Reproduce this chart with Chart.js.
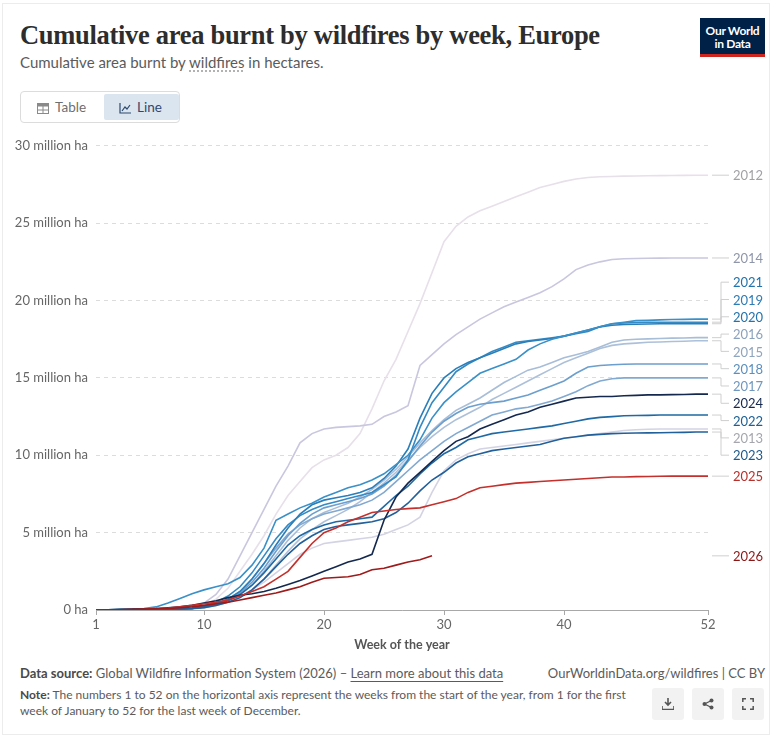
<!DOCTYPE html>
<html>
<head>
<meta charset="utf-8">
<script src="https://cdn.jsdelivr.net/npm/chart.js@4.4.1/dist/chart.umd.min.js"></script>
<style>
  html, body { margin: 0; padding: 0; background: #fff; }
  body { width: 783px; height: 740px; position: relative; overflow: hidden; font-family: Lato, "Noto Sans", sans-serif; }
  .frame { position: absolute; left: 2px; top: 3px; width: 768px; height: 732px; border: 1px solid #ececec; box-sizing: border-box; }
  .title { position: absolute; left: 20px; top: 20px; font-family: "Liberation Serif", "DejaVu Serif", serif; font-weight: bold; font-size: 26.5px; color: #2d2d2d; letter-spacing: -0.3px; white-space: nowrap; }
  .subtitle { position: absolute; left: 20px; top: 53px; font-size: 15px; color: #5b5b5b; white-space: nowrap; }
  .subtitle span { text-decoration: underline dotted #999; text-underline-offset: 3px; }
  .tabs { position: absolute; left: 20px; top: 91px; width: 160px; height: 32px; border: 1px solid #dcdcdc; border-radius: 4px; box-sizing: border-box; }
  .tab { position: absolute; top: 2px; height: 26px; font-size: 13.5px; color: #6e6e6e; line-height: 26px; }
  .tab.on { background: #dbe5f0; color: #2d4a6e; border-radius: 2px; }
  .tab svg { vertical-align: -2px; margin-right: 6px; }
  .logo { position: absolute; left: 700px; top: 18px; width: 65px; height: 39px; background: #002147; color: #fff; font-size: 12px; font-weight: bold; text-align: center; line-height: 13px; box-sizing: border-box; padding-top: 6px; letter-spacing: -0.3px; }
  .logo:after { content: ""; position: absolute; left: 0; right: 0; bottom: 0; height: 3px; background: #ce261e; }
  #wrap { position: absolute; left: 0; top: 130px; width: 783px; height: 530px; }
  .source { position: absolute; left: 20px; top: 665px; font-size: 13px; color: #5b5b5b; white-space: nowrap; }
  .source b, .note b { color: #4a4a4a; }
  .source u { text-underline-offset: 3px; }
  .credit { position: absolute; right: 18px; top: 665px; font-size: 13px; color: #5b5b5b; white-space: nowrap; }
  .note { position: absolute; left: 20px; top: 687px; width: 618px; font-size: 12px; color: #5b5b5b; line-height: 16px; }
  .btn { position: absolute; top: 688px; width: 32px; height: 32px; background: #f2f2f2; border-radius: 3px; }
  .btn svg { position: absolute; left: 10px; top: 10px; }
</style>
</head>
<body>
<div class="frame"></div>
<div class="title">Cumulative area burnt by wildfires by week, Europe</div>
<div class="subtitle">Cumulative area burnt by <span>wildfires</span> in hectares.</div>
<div class="tabs">
  <div class="tab" style="left:16px;width:70px;"><svg width="12" height="11" viewBox="0 0 12 11"><rect x="0.5" y="0.5" width="11" height="10" fill="none" stroke="#8a8a8a"/><rect x="0.5" y="0.5" width="11" height="3" fill="#8a8a8a"/><line x1="6" y1="0" x2="6" y2="11" stroke="#8a8a8a"/><line x1="0" y1="7" x2="12" y2="7" stroke="#8a8a8a"/></svg>Table</div>
  <div class="tab on" style="left:83px;width:75px;"><span style="padding-left:15px"><svg width="12" height="11" viewBox="0 0 12 11"><polyline points="1,0 1,10 12,10" fill="none" stroke="#2d4a6e" stroke-width="1.2"/><polyline points="3,8 6,4 8,6 11,2" fill="none" stroke="#2d4a6e" stroke-width="1.2"/></svg>Line</span></div>
</div>
<div class="logo">Our World<br>in Data</div>
<div id="wrap"><canvas id="chart"></canvas></div>
<div class="source"><b>Data source:</b> Global Wildfire Information System (2026) – <u>Learn more about this data</u></div>
<div class="credit">OurWorldinData.org/wildfires | CC BY</div>
<div class="note"><b>Note:</b> The numbers 1 to 52 on the horizontal axis represent the weeks from the start of the year, from 1 for the first week of January to 52 for the last week of December.</div>
<div class="btn" style="left:652px;"><svg width="12" height="12" viewBox="0 0 12 12"><path d="M6 0v7M3 4l3 3 3-3" fill="none" stroke="#555" stroke-width="1.6"/><path d="M0 8v3.5h12V8" fill="none" stroke="#555" stroke-width="1.6"/></svg></div>
<div class="btn" style="left:692px;"><svg width="12" height="12" viewBox="0 0 12 12"><circle cx="9.5" cy="2.5" r="2" fill="#555"/><circle cx="2.5" cy="6" r="2" fill="#555"/><circle cx="9.5" cy="9.5" r="2" fill="#555"/><path d="M9.5 2.5L2.5 6l7 3.5" fill="none" stroke="#555" stroke-width="1.3"/></svg></div>
<div class="btn" style="left:732px;"><svg width="12" height="12" viewBox="0 0 12 12"><path d="M0.8 4V0.8H4M8 0.8h3.2V4M11.2 8v3.2H8M4 11.2H0.8V8" fill="none" stroke="#555" stroke-width="1.5"/></svg></div>
<script>
// weeks of the year
const weeks = [1, 2, 3, 4, 5, 6, 7, 8, 9, 10, 11, 12, 13, 14, 15, 16, 17, 18, 19, 20,
  21, 22, 23, 24, 25, 26, 27, 28, 29, 30, 31, 32, 33, 34, 35, 36, 37, 38, 39, 40,
  41, 42, 43, 44, 45, 46, 47, 48, 49, 50, 51, 52];
const weekTicks = [1, 10, 20, 30, 40, 52];
const yTicks = [0, 5, 10, 15, 20, 25, 30];

// cumulative area burnt, million hectares
const burnt2012 = [0, 0, 0.01, 0.02, 0.03, 0.05, 0.08, 0.12, 0.2,
  0.3, 0.7, 1.4, 2.5, 3.6, 4.8, 6.2, 7.4, 8.3, 9.2, 9.7,
  10.0, 10.5, 11.4, 13.0, 14.8, 16.2, 18.0, 19.8, 21.8, 23.8,
  24.8, 25.4, 25.8, 26.1, 26.4, 26.7, 27.0, 27.3, 27.5, 27.7,
  27.85, 27.95, 28.0, 28.02, 28.04, 28.05, 28.06, 28.07, 28.08, 28.09, 28.1, 28.1];
const burnt2013 = [0, 0, 0.01, 0.02, 0.03, 0.05, 0.08, 0.1, 0.15,
  0.25, 0.4, 0.6, 0.9, 1.3, 1.8, 2.4, 3.0, 3.6, 4.0, 4.3,
  4.4, 4.5, 4.6, 4.7, 4.9, 5.2, 5.5, 6.0, 7.6, 9.0,
  9.7, 10.1, 10.4, 10.5, 10.6, 10.7, 10.8, 10.9, 11.0, 11.1,
  11.2, 11.3, 11.4, 11.5, 11.6, 11.65, 11.68, 11.7, 11.7, 11.7, 11.7, 11.7];
const burnt2014 = [0, 0, 0.01, 0.02, 0.03, 0.05, 0.08, 0.12, 0.2,
  0.45, 1.0, 2.0, 3.5, 5.0, 6.5, 8.0, 9.3, 10.8, 11.4, 11.7,
  11.8, 11.85, 11.9, 12.0, 12.5, 12.8, 13.2, 15.8, 16.5, 17.2,
  17.8, 18.3, 18.8, 19.2, 19.6, 19.9, 20.2, 20.5, 20.9, 21.4,
  22.0, 22.3, 22.5, 22.65, 22.7, 22.72, 22.73, 22.74, 22.75, 22.75, 22.75, 22.75];
const burnt2015 = [0, 0, 0.01, 0.01, 0.02, 0.03, 0.04, 0.05, 0.06,
  0.15, 0.3, 0.5, 0.8, 1.3, 2.0, 2.9, 3.8, 4.6, 5.2, 5.7,
  6.1, 6.5, 7.0, 7.6, 8.2, 8.9, 9.7, 10.5, 11.2, 11.8,
  12.3, 12.7, 13.1, 13.6, 14.0, 14.4, 14.8, 15.2, 15.6, 16.0,
  16.3, 16.6, 16.9, 17.1, 17.2, 17.25, 17.3, 17.32, 17.35, 17.37, 17.4, 17.4];
const burnt2016 = [0, 0, 0.01, 0.01, 0.02, 0.03, 0.05, 0.07, 0.1,
  0.2, 0.35, 0.6, 1.0, 1.6, 2.5, 3.5, 4.5, 5.3, 5.9, 6.3,
  6.6, 6.9, 7.3, 7.8, 8.4, 9.1, 9.9, 10.8, 11.6, 12.3,
  12.9, 13.3, 13.7, 14.2, 14.7, 15.1, 15.5, 15.7, 16.0, 16.3,
  16.5, 16.7, 17.0, 17.3, 17.45, 17.5, 17.52, 17.55, 17.57, 17.58, 17.6, 17.6];
const burnt2017 = [0, 0, 0.01, 0.02, 0.03, 0.04, 0.06, 0.08, 0.1,
  0.2, 0.4, 0.7, 1.2, 2.0, 3.0, 4.0, 4.9, 5.5, 5.9, 6.2,
  6.4, 6.6, 6.8, 7.1, 7.6, 8.3, 9.0, 9.7, 10.3, 10.9,
  11.4, 11.8, 12.2, 12.6, 12.8, 13.0, 13.1, 13.3, 13.5, 13.8,
  14.1, 14.5, 14.8, 14.95, 15.0, 15.0, 15.0, 15.0, 15.0, 15.0, 15.0, 15.0];
const burnt2018 = [0, 0, 0.01, 0.02, 0.03, 0.04, 0.06, 0.08, 0.1,
  0.2, 0.4, 0.7, 1.1, 1.8, 2.7, 3.8, 4.8, 5.6, 6.2, 6.6,
  6.8, 7.0, 7.2, 7.5, 8.0, 8.7, 9.6, 10.6, 11.5, 12.2,
  12.7, 13.1, 13.3, 13.4, 13.5, 13.7, 13.9, 14.2, 14.5, 14.8,
  15.3, 15.7, 15.8, 15.85, 15.88, 15.9, 15.9, 15.9, 15.9, 15.9, 15.9, 15.9];
const burnt2019 = [0, 0, 0.01, 0.02, 0.03, 0.04, 0.06, 0.08, 0.1,
  0.25, 0.5, 0.9, 1.5, 2.4, 3.5, 4.6, 5.5, 6.1, 6.5, 6.8,
  7.0, 7.2, 7.4, 7.6, 8.1, 8.6, 9.7, 11.8, 13.4, 14.4,
  15.4, 15.9, 16.3, 16.7, 17.0, 17.3, 17.4, 17.5, 17.6, 17.7,
  17.85, 18.0, 18.3, 18.5, 18.55, 18.58, 18.6, 18.6, 18.6, 18.6, 18.6, 18.6];
const burnt2020 = [0, 0, 0.01, 0.02, 0.03, 0.04, 0.06, 0.08, 0.1,
  0.2, 0.4, 0.7, 1.2, 2.0, 3.0, 4.2, 5.3, 6.2, 6.8, 7.1,
  7.25, 7.4, 7.6, 7.9, 8.5, 9.3, 10.4, 12.4, 14.0, 15.0,
  15.6, 16.0, 16.3, 16.6, 16.9, 17.2, 17.35, 17.45, 17.55, 17.7,
  17.9, 18.1, 18.3, 18.4, 18.45, 18.47, 18.48, 18.5, 18.5, 18.5, 18.5, 18.5];
const burnt2021 = [0, 0.02, 0.04, 0.06, 0.1, 0.2, 0.45, 0.75, 1.05,
  1.3, 1.5, 1.7, 2.1, 2.9, 4.0, 5.8, 6.2, 6.6, 6.9, 7.3,
  7.6, 7.9, 8.1, 8.4, 8.8, 9.4, 10.0, 11.0, 12.4, 13.4,
  14.1, 14.7, 15.3, 15.6, 15.9, 16.2, 16.8, 17.2, 17.5, 17.7,
  17.9, 18.1, 18.3, 18.5, 18.6, 18.7, 18.72, 18.75, 18.77, 18.78, 18.8, 18.8];
const burnt2022 = [0, 0, 0.01, 0.02, 0.03, 0.04, 0.05, 0.07, 0.1,
  0.2, 0.35, 0.6, 1.0, 1.6, 2.4, 3.3, 4.2, 4.8, 5.2, 5.5,
  5.7, 5.8, 5.9, 6.0, 6.7, 7.4, 8.0, 8.8, 9.5, 10.1,
  10.5, 11.0, 11.2, 11.4, 11.5, 11.6, 11.7, 11.8, 11.9, 12.05,
  12.2, 12.35, 12.45, 12.5, 12.55, 12.57, 12.58, 12.6, 12.6, 12.6, 12.6, 12.6];
const burnt2023 = [0, 0, 0.01, 0.02, 0.03, 0.04, 0.05, 0.07, 0.1,
  0.15, 0.3, 0.5, 0.8, 1.3, 2.0, 2.8, 3.6, 4.3, 4.8, 5.2,
  5.4, 5.5, 5.6, 5.7, 5.9, 6.3, 6.9, 7.7, 8.4, 8.9,
  9.5, 9.9, 10.1, 10.3, 10.4, 10.5, 10.6, 10.7, 10.9, 11.1,
  11.2, 11.3, 11.35, 11.4, 11.42, 11.44, 11.45, 11.46, 11.47, 11.48, 11.5, 11.5];
const burnt2024 = [0, 0.02, 0.04, 0.06, 0.08, 0.1, 0.15, 0.2, 0.3,
  0.45, 0.6, 0.8, 0.95, 1.05, 1.2, 1.4, 1.65, 1.9, 2.2, 2.5,
  2.8, 3.1, 3.3, 3.6, 5.8, 7.3, 8.2, 8.9, 9.6, 10.3,
  10.9, 11.2, 11.7, 12.0, 12.3, 12.6, 12.8, 13.1, 13.3, 13.5,
  13.7, 13.75, 13.8, 13.8, 13.85, 13.87, 13.9, 13.9, 13.92, 13.93, 13.95, 13.95];
const burnt2025 = [0, 0.01, 0.02, 0.03, 0.05, 0.08, 0.12, 0.2, 0.3,
  0.4, 0.5, 0.65, 0.9, 1.2, 1.5, 2.0, 2.5, 3.4, 4.3, 5.0,
  5.3, 5.7, 6.0, 6.3, 6.4, 6.5, 6.55, 6.6, 6.8, 7.0,
  7.2, 7.6, 7.9, 8.0, 8.1, 8.2, 8.25, 8.3, 8.35, 8.4,
  8.45, 8.5, 8.55, 8.6, 8.6, 8.62, 8.63, 8.64, 8.65, 8.65, 8.65, 8.65];
const burnt2026 = [0, 0.01, 0.02, 0.03, 0.05, 0.08, 0.1, 0.15, 0.2,
  0.3, 0.4, 0.5, 0.65, 0.8, 0.95, 1.1, 1.3, 1.5, 1.8, 2.05,
  2.1, 2.15, 2.3, 2.6, 2.7, 2.9, 3.1, 3.25, 3.5];

// newest year first so it is painted on top
const series = [
  { year: '2026', values: burnt2026, line: '#9e1b1b', text: '#8b1616' },
  { year: '2025', values: burnt2025, line: '#c4302b', text: '#b8302b' },
  { year: '2024', values: burnt2024, line: '#15294f', text: '#15294f' },
  { year: '2023', values: burnt2023, line: '#21609a', text: '#1e5a8c' },
  { year: '2022', values: burnt2022, line: '#1f6aa4', text: '#1d6096' },
  { year: '2021', values: burnt2021, line: '#3a90c8', text: '#2073ab' },
  { year: '2020', values: burnt2020, line: '#2a7eba', text: '#2373ae' },
  { year: '2019', values: burnt2019, line: '#358ac3', text: '#2c7cb5' },
  { year: '2018', values: burnt2018, line: '#6c9fcd', text: '#5b8fbf' },
  { year: '2017', values: burnt2017, line: '#82a9d0', text: '#6f97bf' },
  { year: '2016', values: burnt2016, line: '#a7bdd8', text: '#8ca2bc' },
  { year: '2015', values: burnt2015, line: '#adc0da', text: '#8fa4bd' },
  { year: '2014', values: burnt2014, line: '#c9c6df', text: '#8f96a9' },
  { year: '2013', values: burnt2013, line: '#d3d3e4', text: '#a6a7ae' },
  { year: '2012', values: burnt2012, line: '#e7dfea', text: '#a2a2a6' }
];

const endLabels = {
  id: 'endLabels',
  afterDatasetsDraw(chart) {
    const ctx = chart.ctx;
    const ys = chart.scales.y;
    const right = chart.chartArea.right;
    const gap = 17.3;
    const items = chart.data.datasets.map(ds => {
      const last = ds.data[ds.data.length - 1];
      return { text: ds.label, color: ds.labelColor, target: ys.getPixelForValue(last.y) };
    });
    items.sort((a, b) => a.target - b.target);
    // group overlapping labels and centre each group on its lines
    let groups = items.map(it => ({ items: [it] }));
    const place = g => {
      const mean = g.items.reduce((s, it) => s + it.target, 0) / g.items.length;
      g.top = mean - (g.items.length - 1) * gap / 2;
    };
    groups.forEach(place);
    let merged = true;
    while (merged) {
      merged = false;
      for (let i = 0; i < groups.length - 1; i++) {
        const a = groups[i], b = groups[i + 1];
        if (a.top + a.items.length * gap > b.top) {
          a.items = a.items.concat(b.items);
          place(a);
          groups.splice(i + 1, 1);
          merged = true;
          break;
        }
      }
    }
    ctx.save();
    ctx.font = '13px Lato';
    ctx.textBaseline = 'middle';
    ctx.lineWidth = 1;
    groups.forEach(g => {
      g.items.forEach((it, k) => {
        const ly = g.top + k * gap;
        const x0 = right + 4, xm = right + 13, x1 = right + 21;
        ctx.strokeStyle = '#cfcfcf';
        ctx.beginPath();
        ctx.moveTo(x0, it.target);
        ctx.lineTo(xm, it.target);
        ctx.lineTo(xm, ly);
        ctx.lineTo(x1, ly);
        ctx.stroke();
        ctx.fillStyle = it.color;
        ctx.fillText(it.text, right + 25, ly + 1);
      });
    });
    ctx.restore();
  }
};

new Chart(document.getElementById('chart'), {
  type: 'line',
  data: {
    datasets: series.map(s => ({
      label: s.year,
      labelColor: s.text,
      data: s.values.map((v, i) => ({ x: weeks[i], y: v })),
      borderColor: s.line,
      borderWidth: 1.6,
      pointRadius: 0,
      tension: 0,
      fill: false
    }))
  },
  options: {
    responsive: true,
    maintainAspectRatio: false,
    animation: false,
    events: [],
    layout: { padding: { top: 15, right: 75, left: 0, bottom: 0 } },
    plugins: { legend: { display: false }, tooltip: { enabled: false } },
    scales: {
      x: {
        type: 'linear',
        min: 1,
        max: 52,
        afterBuildTicks: scale => { scale.ticks = weekTicks.map(v => ({ value: v })); },
        afterFit: scale => { scale.height = 50; },
        grid: { drawOnChartArea: false, tickLength: 5, color: '#a8a8a8' },
        border: { color: '#a8a8a8' },
        ticks: { color: '#666', font: { family: 'Lato', size: 13 }, padding: 2, maxRotation: 0 },
        title: { display: true, text: 'Week of the year', color: '#555', font: { family: 'Lato', size: 12.5, weight: 'bold' }, padding: { top: 4, bottom: 8 } }
      },
      y: {
        min: 0,
        max: 30,
        afterBuildTicks: scale => { scale.ticks = yTicks.map(v => ({ value: v })); },
        afterFit: scale => { scale.width = 96; },
        grid: { color: '#dcdcdc', drawTicks: false },
        border: { display: false, dash: [4, 4] },
        ticks: {
          color: '#666',
          font: { family: 'Lato', size: 13 },
          padding: 8,
          callback: v => v === 0 ? '0 ha' : v + ' million ha'
        }
      }
    }
  },
  plugins: [endLabels]
});
</script>
</body>
</html>
